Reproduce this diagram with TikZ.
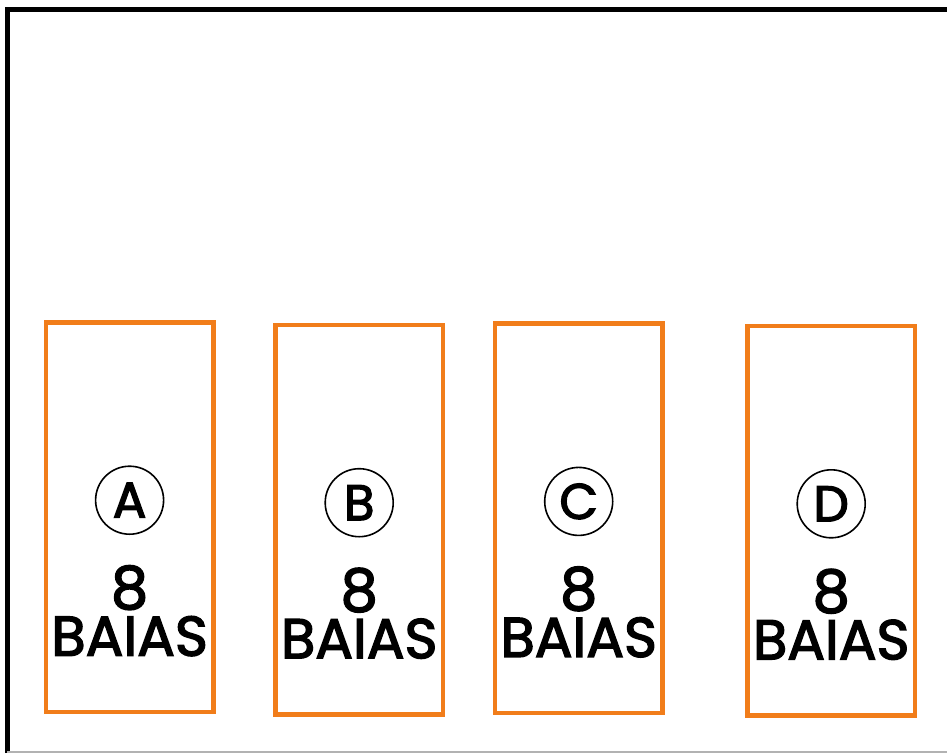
\documentclass[tikz,border=0pt]{standalone}
\usepackage{fontspec}
\setmainfont{Poppins}[FakeBold=2.6]
\usetikzlibrary{positioning}
\definecolor{baiaorange}{RGB}{241,125,26}

\begin{document}
\begin{tikzpicture}[x=1pt,y=-1pt]
	\tikzstyle{baia}=[rectangle, draw=baiaorange, line width=4.5pt, minimum width=167.5pt, minimum height=389.5pt, inner sep=0pt]
	\tikzstyle{tag}=[circle, draw, line width=1.6pt, minimum size=68pt, inner sep=0pt, font=\fontsize{50}{50}\selectfont]
	\tikzstyle{lab}=[inner sep=0pt, align=center, anchor=north, font=\fontsize{56}{47}\selectfont]
	\useasboundingbox (0,0) rectangle (947,753);
	% outer wall
	\draw[line width=5pt] (7,753) -- (7,9) -- (947,9);
	\draw[gray!60, line width=1.5pt] (7,752) -- (947,752);
	% bays
	\node[baia] (boxA) at (129.6,517.2) {};
	\node[baia] (boxB) at (359.2,519.7) {};
	\node[baia] (boxC) at (578.7,518.4) {};
	\node[baia] (boxD) at (831.2,520.8) {};
	\node[tag] (tagA) at ([yshift=-180pt]boxA.north) {A};
	\node[tag] (tagB) at ([yshift=-180pt]boxB.north) {B};
	\node[tag] (tagC) at ([yshift=-180pt]boxC.north) {C};
	\node[tag] (tagD) at ([yshift=-180pt]boxD.north) {D};
	\node[lab] (labA) at ([yshift=-245pt]boxA.north) {{\fontsize{59}{47}\selectfont 8}\\BAIAS};
	\node[lab] (labB) at ([yshift=-245pt]boxB.north) {{\fontsize{59}{47}\selectfont 8}\\BAIAS};
	\node[lab] (labC) at ([yshift=-245pt]boxC.north) {{\fontsize{59}{47}\selectfont 8}\\BAIAS};
	\node[lab] (labD) at ([yshift=-245pt]boxD.north) {{\fontsize{59}{47}\selectfont 8}\\BAIAS};
\end{tikzpicture}
\end{document}
